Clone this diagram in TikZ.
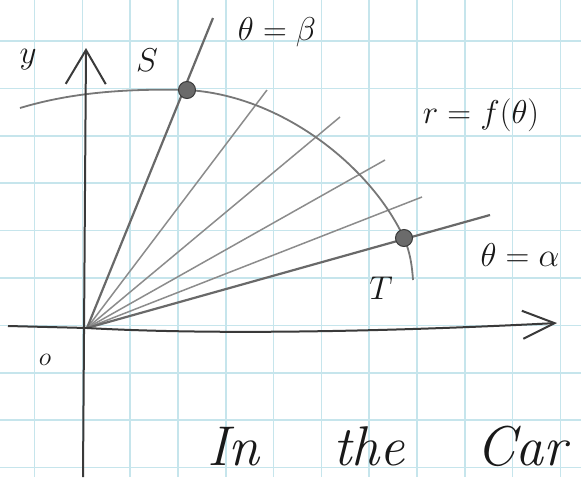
\RequirePackage{fix-cm}
\documentclass[tikz,border=0pt]{standalone}
\usepackage{amsmath}
\usetikzlibrary{arrows.meta}
\definecolor{gridblue}{RGB}{198,229,236}
\definecolor{pencil}{RGB}{140,140,140}
\definecolor{lead}{RGB}{58,58,58}
\tikzset{
  ray/.style={pencil,line width=1.5pt},
  boldray/.style={pencil!75!black,line width=2.2pt},
  axis/.style={lead,line width=2pt},
  dot/.style={circle,fill=lead!75,draw=lead,line width=1pt,inner sep=0pt,minimum size=17pt},
  handlabel/.style={text=black!90,inner sep=0pt,font=\fontsize{33}{33}\selectfont},
}

\begin{document}
\begin{tikzpicture}[x=1pt,y=-1pt]
        \useasboundingbox (0,0) rectangle (581,477);
        \fill[white] (0,0) rectangle (581,477);
        \draw[gridblue,line width=1.6pt]
          (34.5,0) -- (34.5,477) (82.3,0) -- (82.3,477) (130.1,0) -- (130.1,477)
          (177.9,0) -- (177.9,477) (225.7,0) -- (225.7,477) (273.5,0) -- (273.5,477)
          (321.3,0) -- (321.3,477) (369.1,0) -- (369.1,477) (416.9,0) -- (416.9,477)
          (464.7,0) -- (464.7,477) (512.5,0) -- (512.5,477) (560.3,0) -- (560.3,477)
          (0,41) -- (581,41) (0,88.4) -- (581,88.4) (0,135.8) -- (581,135.8)
          (0,183.2) -- (581,183.2) (0,230.6) -- (581,230.6) (0,278) -- (581,278)
          (0,325.4) -- (581,325.4) (0,372.8) -- (581,372.8) (0,420.2) -- (581,420.2)
          (0,467.6) -- (581,467.6);

        \coordinate (O) at (87,328);
        \coordinate (xleft) at (8,326);
        \coordinate (xtip) at (557,323);
        \coordinate (ybot) at (83,477);
        \coordinate (ytip) at (86,48);
        \coordinate (cstart) at (20,108);
        \coordinate (cend) at (413,280);
        \coordinate (beta) at (213,18);
        \coordinate (ray2) at (267,90);
        \coordinate (ray3) at (340,117);
        \coordinate (ray4) at (385,160);
        \coordinate (ray5) at (422,197);
        \coordinate (alpha) at (490,215);
        \coordinate (S) at (187,90);
        \coordinate (T) at (404,238);

        \draw[ray] (O) -- (ray2);
        \draw[ray] (O) -- (ray3);
        \draw[ray] (O) -- (ray4);
        \draw[ray] (O) -- (ray5);
        \draw[boldray] (O) -- (alpha);
        \draw[boldray] (O) -- (beta);

        \draw[pencil!85!black,line width=1.8pt](cstart) .. controls (60, 96) and (110, 88) .. (S) .. controls (280, 95) and (370, 165) .. (T) .. controls (410, 252) and (412, 265) .. (cend);

        \draw[axis,-{Straight Barb[length=34pt,width=40pt]}] (ybot) -- (ytip);
        \draw[axis,-{Straight Barb[length=32pt,width=28pt]}] (xleft) -- (O) .. controls (230, 336) and (420, 330) .. (xtip);

        \node[dot] (Sdot) at (S) {};
        \node[dot] (Tdot) at (T) {};

        \node[handlabel] (ylab) at (28, 60) {$y$};
        \node[handlabel] (Slab) at (147, 60) {$S$};
        \node[handlabel] (betalab) at (277, 32) {$\theta=\beta$};
        \node[handlabel] (rlab) at (481, 115) {$r=f(\theta)$};
        \node[handlabel] (alphalab) at (520, 255) {$\theta=\alpha$};
        \node[handlabel] (Tlab) at (381, 288) {$T$};
        \node[handlabel,font=\fontsize{26}{26}\selectfont] (olab) at (45, 360) {$o$};
        \node[text=black!90,inner sep=0pt,anchor=base west,font=\fontsize{56}{56}\selectfont\itshape] (caption) at (207, 465) {In\hskip 74pt the\hskip 72pt Car};
    \end{tikzpicture}
\end{document}
